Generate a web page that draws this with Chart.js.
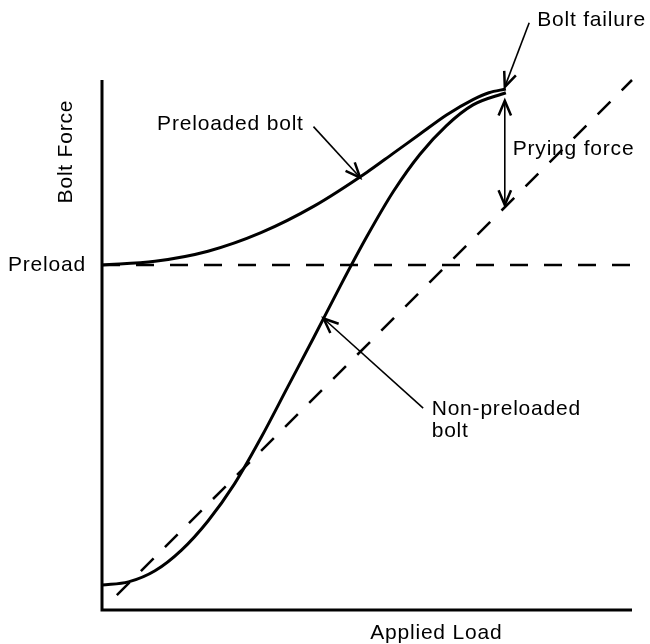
<!DOCTYPE html>
<html>
<head>
<meta charset="utf-8">
<script src="https://cdn.jsdelivr.net/npm/chart.js@4"></script>
<style>
html, body { margin: 0; padding: 0; background: #fff; }
</style>
</head>
<body>
<canvas id="myChart" width="650" height="644"></canvas>
<script>
// applied load (x) vs bolt force (y), both scaled 0..1
var preloadedX = [0, 0.1, 0.2, 0.3, 0.4, 0.5, 0.55, 0.6, 0.65, 0.7, 0.73, 0.762];
var preloadedY = [0.651, 0.658, 0.677, 0.712, 0.762, 0.826, 0.862, 0.898, 0.934, 0.963, 0.976, 0.983];
var plainX = [0, 0.05, 0.1, 0.15, 0.2, 0.25, 0.3, 0.35, 0.4, 0.45, 0.5, 0.55, 0.6, 0.65, 0.7, 0.762];
var plainY = [0.047, 0.053, 0.074, 0.113, 0.168, 0.238, 0.325, 0.42, 0.515, 0.612, 0.705, 0.79, 0.86, 0.914, 0.953, 0.976];
var preloadLevel = 0.651;
var diagonalX = [0.028, 1];
var diagonalY = [0.028, 1];

function pts(xs, ys) {
    return xs.map(function(x, i) { return {x: x, y: ys[i]}; });
}

// annotations, positions in data units
var notes = [
    {text: 'Bolt failure', x: 0.821, y: 1.101},
    {text: 'Prying force', x: 0.775, y: 0.858},
    {text: 'Preloaded bolt', x: 0.104, y: 0.906},
    {text: 'Non-preloaded', x: 0.622, y: 0.368},
    {text: 'bolt', x: 0.622, y: 0.326},
    {text: 'Applied Load', x: 0.506, y: -0.055}
];
var arrows = [
    {from: [0.806, 1.108], to: [0.760, 0.987]},
    {from: [0.399, 0.912], to: [0.487, 0.816]},
    {from: [0.606, 0.381], to: [0.418, 0.550]},
    {from: [0.760, 0.870], to: [0.760, 0.764]},
    {from: [0.760, 0.870], to: [0.760, 0.961]}
];

var FONT = '21px "Liberation Sans", Arial, sans-serif';

function arrow(ctx, x1, y1, x2, y2) {
    var a = Math.atan2(y2 - y1, x2 - x1);
    var len = 16, spread = 0.4;
    ctx.lineWidth = 1.6;
    ctx.beginPath();
    ctx.moveTo(x1, y1);
    ctx.lineTo(x2, y2);
    ctx.stroke();
    ctx.lineWidth = 2.5;
    ctx.beginPath();
    ctx.moveTo(x2 - len * Math.cos(a - spread), y2 - len * Math.sin(a - spread));
    ctx.lineTo(x2, y2);
    ctx.lineTo(x2 - len * Math.cos(a + spread), y2 - len * Math.sin(a + spread));
    ctx.stroke();
}

var extras = {
    id: 'extras',
    afterDraw: function(chart) {
        var ctx = chart.ctx;
        var xs = chart.scales.x, ys = chart.scales.y;
        var area = chart.chartArea;
        ctx.save();
        ctx.strokeStyle = '#000';
        ctx.fillStyle = '#000';
        ctx.lineCap = 'butt';
        // axes
        ctx.lineWidth = 3;
        ctx.beginPath();
        ctx.moveTo(area.left, area.top);
        ctx.lineTo(area.left, area.bottom);
        ctx.lineTo(area.right, area.bottom);
        ctx.stroke();

        arrows.forEach(function(a) {
            arrow(ctx, xs.getPixelForValue(a.from[0]), ys.getPixelForValue(a.from[1]),
                  xs.getPixelForValue(a.to[0]), ys.getPixelForValue(a.to[1]));
        });

        ctx.font = FONT;
        ctx.letterSpacing = '0.8px';
        ctx.textBaseline = 'alphabetic';
        ctx.textAlign = 'left';
        notes.forEach(function(n) {
            ctx.fillText(n.text, xs.getPixelForValue(n.x), ys.getPixelForValue(n.y));
        });

        ctx.textAlign = 'right';
        ctx.textBaseline = 'middle';
        ctx.fillText('Preload', area.left - 16, ys.getPixelForValue(preloadLevel));

        ctx.translate(xs.getPixelForValue(-0.068), ys.getPixelForValue(0.865));
        ctx.rotate(-Math.PI / 2);
        ctx.textAlign = 'center';
        ctx.fillText('Bolt Force', 0, 0);
        ctx.restore();
    }
};

var ctx = document.getElementById('myChart').getContext('2d');
var myChart = new Chart(ctx, {
    type: 'line',
    data: {
        datasets: [{
            label: 'Preloaded bolt',
            data: pts(preloadedX, preloadedY),
            borderColor: '#000',
            borderWidth: 3,
            cubicInterpolationMode: 'monotone'
        },
        {
            label: 'Non-preloaded bolt',
            data: pts(plainX, plainY),
            borderColor: '#000',
            borderWidth: 3,
            cubicInterpolationMode: 'monotone'
        },
        {
            label: 'Preload',
            data: pts([0, 1], [preloadLevel, preloadLevel]),
            borderColor: '#000',
            borderWidth: 2.5,
            borderDash: [18, 16]
        },
        {
            label: 'Proportional',
            data: pts(diagonalX, diagonalY),
            borderColor: '#000',
            borderWidth: 2.5,
            borderDash: [18, 16]
        }]
    },
    options: {
        responsive: false,
        animation: false,
        layout: {
            padding: {left: 102, top: 80, right: 18, bottom: 34}
        },
        elements: {
            point: { radius: 0 }
        },
        datasets: {
            line: { clip: false, fill: false }
        },
        plugins: {
            legend: { display: false },
            tooltip: { enabled: false }
        },
        scales: {
            x: { type: 'linear', min: 0, max: 1, display: false },
            y: { type: 'linear', min: 0, max: 1, display: false }
        }
    },
    plugins: [extras]
});
</script>
</body>
</html>
